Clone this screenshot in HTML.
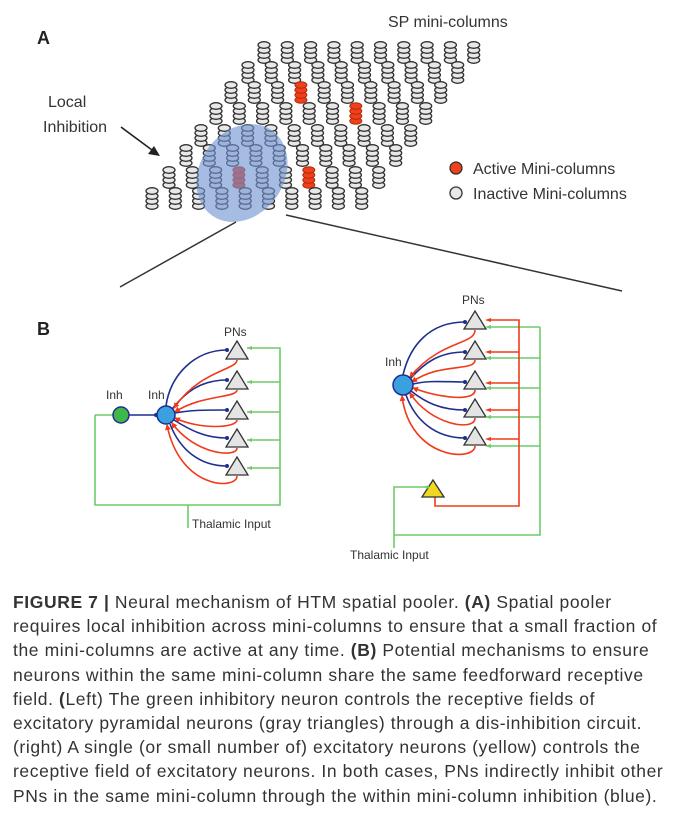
<!DOCTYPE html>
<html><head><meta charset="utf-8"><style>
body{margin:0;width:683px;height:839px;background:#fff;overflow:hidden;font-family:"Liberation Sans",Arial,sans-serif;}
#cap{position:absolute;left:13px;top:590px;font-size:17.5px;letter-spacing:0.6px;line-height:24.2px;color:#333;white-space:nowrap;}
b{font-weight:bold}
</style></head><body>
<svg width="683" height="580" style="position:absolute;left:0;top:0" font-family="Liberation Sans, Arial, sans-serif">
<defs>
<g id="st"><g stroke="#333" stroke-width="1.3" fill="#e8e8e8">
<ellipse cx="0" cy="16" rx="6" ry="3.3"/><ellipse cx="0" cy="11" rx="6" ry="3.3"/><ellipse cx="0" cy="6" rx="6" ry="3.3"/><ellipse cx="0" cy="1" rx="6" ry="3.3"/></g></g>
<g id="sr"><g stroke="#b02a10" stroke-width="1" fill="#f0401a">
<ellipse cx="0" cy="16" rx="6" ry="3.3"/><ellipse cx="0" cy="11" rx="6" ry="3.3"/><ellipse cx="0" cy="6" rx="6" ry="3.3"/><ellipse cx="0" cy="1" rx="6" ry="3.3"/></g></g>
<marker id="bd" markerWidth="4" markerHeight="4" refX="2" refY="2" markerUnits="userSpaceOnUse"><circle cx="2" cy="2" r="2" fill="#1f2f8f"/></marker>
<marker id="ra" markerWidth="6" markerHeight="6" refX="5" refY="3" orient="auto" markerUnits="userSpaceOnUse"><path d="M0,0L6,3L0,6z" fill="#f03a1a"/></marker>
</defs>
<text x="37" y="44" font-size="18" font-weight="bold" fill="#222">A</text>
<text x="388" y="27" font-size="16" fill="#333">SP mini-columns</text>
<text x="48" y="107" font-size="16" fill="#333">Local</text>
<text x="43" y="132" font-size="16" fill="#333">Inhibition</text>
<line x1="121" y1="127" x2="152" y2="150" stroke="#222" stroke-width="1.6"/>
<path d="M160,156 L148,154 L154,146z" fill="#222"/>
<g id="grid"></g>
<ellipse cx="242" cy="173" rx="52" ry="42" transform="rotate(-55 242 173)" fill="#6f93d2" fill-opacity="0.62"/>
<circle cx="456" cy="168" r="6" fill="#f0401a" stroke="#333" stroke-width="1.3"/>
<text x="473" y="174" font-size="16" fill="#333">Active Mini-columns</text>
<circle cx="456" cy="193" r="6" fill="#e8e8e8" stroke="#333" stroke-width="1.3"/>
<text x="473" y="199" font-size="16" fill="#333">Inactive Mini-columns</text>
<line x1="236" y1="222" x2="120" y2="287" stroke="#333" stroke-width="1.5"/>
<line x1="286" y1="215" x2="622" y2="291" stroke="#333" stroke-width="1.5"/>
<text x="37" y="335" font-size="18" font-weight="bold" fill="#222">B</text>

<g fill="none" stroke-width="1.6">
<path d="M95,415 H113 M95,415 V505 H280 V348 H247 M280,382 H247 M280,412 H247 M280,440 H247 M280,468 H247 M188,505 V528" stroke="#6ccc6c"/>
<path d="M129,415 H156" stroke="#1f2f8f" marker-end="url(#bd)"/>
<g stroke="#1f2f8f" marker-end="url(#bd)">
<path d="M166,406 C170,375 195,350 227,350"/>
<path d="M172,409 C185,393 200,380 227,380"/>
<path d="M175,413 C190,410 205,410 227,410"/>
<path d="M174,420 C190,430 205,438 227,438"/>
<path d="M170,424 C180,450 200,466 227,466"/>
</g>
<g stroke="#f03a1a" marker-end="url(#ra)">
<path d="M237,360 C237,370 200,370 174,408"/>
<path d="M237,390 C237,398 200,395 175,412"/>
<path d="M237,420 C237,428 200,430 175,418"/>
<path d="M237,448 C237,458 195,455 172,423"/>
<path d="M237,476 C237,490 180,490 167,425"/>
</g>
</g>
<g fill="#e4e4e4" stroke="#333" stroke-width="1.3">
<path d="M237,341 L248,359 L226,359z"/><path d="M237,371 L248,389 L226,389z"/><path d="M237,401 L248,419 L226,419z"/><path d="M237,429 L248,447 L226,447z"/><path d="M237,457 L248,475 L226,475z"/>
</g>
<path d="M247,348 L252,346 L252,350z M247,382 L252,380 L252,384z M247,412 L252,410 L252,414z M247,440 L252,438 L252,442z M247,468 L252,466 L252,470z" fill="#6ccc6c"/>
<circle cx="121" cy="415" r="8" fill="#3fb84a" stroke="#1f2f8f" stroke-width="1.5"/>
<circle cx="166" cy="415" r="9" fill="#3aa0e0" stroke="#1f2f8f" stroke-width="1.5"/>
<text x="106" y="399" font-size="12" fill="#333">Inh</text>
<text x="148" y="399" font-size="12" fill="#333">Inh</text>
<text x="224" y="336" font-size="12" fill="#333">PNs</text>
<text x="192" y="528" font-size="12" fill="#333">Thalamic Input</text>

<g fill="none" stroke-width="1.6">
<path d="M540,327 V535 H394 V487 H429 M540,358 H489 M540,388 H489 M540,417 H489 M540,446 H489 M540,327 H489 M394,535 V548" stroke="#6ccc6c"/>
<path d="M435,497 V506 H519 V320 H489 M519,352 H489 M519,383 H489 M519,410 H489 M519,439 H489" stroke="#f03a1a"/>
<g stroke="#1f2f8f" marker-end="url(#bd)">
<path d="M403,375 C410,345 430,322 465,322"/>
<path d="M410,379 C425,362 440,352 465,352"/>
<path d="M413,384 C430,380 445,382 465,382"/>
<path d="M411,391 C425,402 440,410 465,410"/>
<path d="M406,395 C415,420 435,438 465,438"/>
</g>
<g stroke="#f03a1a" marker-end="url(#ra)">
<path d="M475,330 C475,345 440,340 410,377"/>
<path d="M475,360 C475,372 440,362 412,382"/>
<path d="M475,390 C475,402 440,398 413,388"/>
<path d="M475,418 C475,432 430,425 410,393"/>
<path d="M475,446 C475,462 410,460 402,396"/>
</g>
</g>
<g fill="#e4e4e4" stroke="#333" stroke-width="1.3">
<path d="M475,311 L486,329 L464,329z"/><path d="M475,341 L486,359 L464,359z"/><path d="M475,371 L486,389 L464,389z"/><path d="M475,399 L486,417 L464,417z"/><path d="M475,427 L486,445 L464,445z"/>
<path d="M433,480 L444,497 L422,497z" fill="#f0d820"/>
</g>
<path d="M485,320 L491,318 L491,322z M485,352 L491,350 L491,354z M485,383 L491,381 L491,385z M485,410 L491,408 L491,412z M485,439 L491,437 L491,441z" fill="#f03a1a"/>
<path d="M485,327 L491,325 L491,329z M485,358 L491,356 L491,360z M485,388 L491,386 L491,390z M485,417 L491,415 L491,419z M485,446 L491,444 L491,448z M423,487 L429,485 L429,489z" fill="#6ccc6c"/>
<circle cx="403" cy="385" r="10" fill="#3aa0e0" stroke="#1f2f8f" stroke-width="1.5"/>
<text x="385" y="366" font-size="12" fill="#333">Inh</text>
<text x="462" y="304" font-size="12" fill="#333">PNs</text>
<text x="350" y="559" font-size="12" fill="#333">Thalamic Input</text>
</svg>
<script>
var g=document.getElementById('grid'),s='';
var ys=[42,62,82,103,125,145,167,188],xs=[264,248,231,216,201,186,169,152];
var red={'2,3':1,'3,6':1,'6,6':1,'6,3':1};
for(var r=0;r<8;r++)for(var c=0;c<10;c++){var x=xs[r]+c*23.3,y=ys[r];s+='<use href="#'+(red[r+','+c]?'sr':'st')+'" x="'+x.toFixed(1)+'" y="'+(y+2)+'"/>';}
g.innerHTML=s;
</script>
<div id="cap">
<b>FIGURE 7 |</b> Neural mechanism of HTM spatial pooler. <b>(A)</b> Spatial pooler<br>
requires local inhibition across mini-columns to ensure that a small fraction of<br>
the mini-columns are active at any time. <b>(B)</b> Potential mechanisms to ensure<br>
neurons within the same mini-column share the same feedforward receptive<br>
field. <b>(</b>Left) The green inhibitory neuron controls the receptive fields of<br>
excitatory pyramidal neurons (gray triangles) through a dis-inhibition circuit.<br>
(right) A single (or small number of) excitatory neurons (yellow) controls the<br>
receptive field of excitatory neurons. In both cases, PNs indirectly inhibit other<br>
PNs in the same mini-column through the within mini-column inhibition (blue).
</div>
</body></html>
